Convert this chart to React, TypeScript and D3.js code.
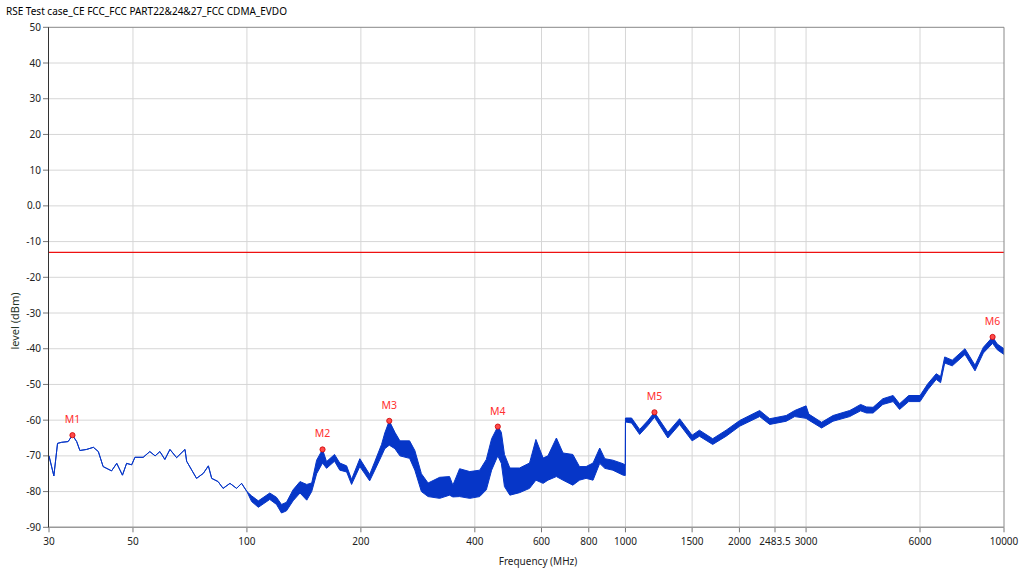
import React from "react";
import * as d3 from "d3";

const TITLE = "RSE Test case_CE FCC_FCC PART22&24&27_FCC CDMA_EVDO";
const xTicks = [30, 50, 100, 200, 400, 600, 800, 1000, 1500, 2000, 2483.5, 3000, 6000, 10000];
const xTickLabels = ["30", "50", "100", "200", "400", "600", "800", "1000", "1500", "2000", "2483.5", "3000", "6000", "10000"];
const yTicks = [50, 40, 30, 20, 10, 0, -10, -20, -30, -40, -50, -60, -70, -80, -90];
const yTickLabels = ["50", "40", "30", "20", "10", "0.0", "-10", "-20", "-30", "-40", "-50", "-60", "-70", "-80", "-90"];
const limitLevel = -13;

const freqs = [
  30, 30.9, 31.6, 32.4, 33.7, 34.6, 35.5, 36.2, 37.7, 39.3, 40.5, 41.7, 43.9, 45.3, 46.9, 48.1, 49.6,
  50.6, 53.2, 55.4, 57.2, 58.9, 60.7, 62.6, 65.2, 68.6, 69.3, 71.5, 73.6, 76.7, 79.1, 80.7, 83.9,
  86.5, 90.2, 93.9, 96.8, 100, 102.9, 107.2, 114.9, 119.7, 123.4, 127.2, 132.4, 138.1, 143.9, 148.3,
  152.8, 158.4, 162.3, 170.4, 175.9, 183.4, 189, 198.7, 204.8, 211, 217.7, 226.8, 231.3, 237.7, 246,
  253.6, 269, 277.7, 289, 301, 323, 343, 350, 364.6, 387.9, 412, 429, 443, 460, 470, 479, 495, 525,
  558, 580, 606, 624, 657, 684, 726, 756, 787, 821, 855, 882, 926, 986, 999, 1000, 1038, 1090, 1144,
  1193, 1210, 1294, 1390, 1500, 1568, 1700, 1845, 2003, 2262, 2405, 2659, 2800, 3000, 3050, 3297,
  3535, 3912, 3992, 4180, 4333, 4510, 4786, 5094, 5298, 5600, 6000, 6291, 6622, 6800, 6972, 7300,
  7887, 8383, 8820, 9330, 9600, 10000,
];
const hiLevels = [
  -70, -75.6, -66.5, -66.2, -66.0, -64.2, -66.0, -68.5, -68.2, -67.6, -68.8, -73.0, -74.2, -72.1, -75.4, -72.1, -72.5,
  -70.4, -70.4, -68.8, -70.0, -68.8, -71.0, -68.2, -70.5, -68.2, -71.5, -74.0, -76.3, -74.9, -72.8, -76.3, -77.2,
  -79.1, -77.7, -79.1, -77.7, -80.0, -81.2, -82.6, -80.4, -81.6, -83.6, -83.0, -79.5, -77.2, -78.0, -77.6,
  -71.2, -68.2, -71.6, -69.6, -72.0, -72.8, -76.6, -70.8, -73.0, -75.2, -71.6, -66.8, -63.6, -60.2, -63.4,
  -65.8, -65.8, -68.5, -75.0, -77.6, -76.0, -75.8, -78.2, -73.6, -74.4, -74.0, -71.0, -65.2, -61.8, -63.4, -69.6, -73.4, -73.4,
  -72.0, -65.4, -70.6, -70.0, -65.0, -69.2, -69.6, -73.0, -73.0, -72.0, -67.8, -70.8, -71.2, -72.2, -72.6, -59.4, -59.4, -62.6, -60.2,
  -57.8, -58.8, -63.4, -59.6, -64.2, -62.8, -65.2, -62.8, -60.1, -57.3, -59.6, -58.7, -57.3, -56.0, -58.3, -60.6,
  -58.7, -57.3, -56.8, -55.6, -56.3, -56.4, -54.0, -53.1, -55.4, -53.1, -53.1, -49.8, -47.0, -47.8, -42.3, -43.2,
  -40.0, -44.6, -39.6, -36.7, -38.7, -40.0,
];
const loLevels = [
  -70, -75.6, -66.5, -66.2, -66.0, -64.2, -66.0, -68.5, -68.2, -67.6, -68.8, -73.0, -74.2, -72.1, -75.4, -72.1, -72.5,
  -70.4, -70.4, -68.8, -70.0, -68.8, -71.0, -68.2, -70.5, -68.2, -71.5, -74.0, -76.3, -74.9, -72.8, -76.3, -77.2,
  -79.1, -77.7, -79.1, -77.7, -80.0, -82.8, -84.4, -82.2, -83.6, -86.0, -85.4, -82.6, -80.4, -82.4, -80.0,
  -75.0, -72.0, -73.5, -71.5, -74.0, -74.5, -78.0, -73.0, -75.0, -77.0, -74.0, -70.0, -68.0, -67.0, -68.0,
  -70.0, -70.7, -74.0, -80.0, -81.4, -81.9, -81.0, -81.5, -81.4, -81.9, -81.4, -79.5, -74.0, -70.0, -72.1, -78.6, -81.0, -80.3,
  -79.1, -76.8, -77.7, -76.8, -75.8, -76.8, -78.2, -76.8, -76.3, -76.8, -72.1, -73.5, -74.0, -75.4, -75.5, -60.5, -60.8, -64.0, -61.6,
  -59.2, -60.2, -65.0, -61.2, -65.8, -64.5, -66.8, -64.5, -61.7, -59.0, -61.2, -60.3, -59.0, -59.5, -60.0, -62.2,
  -60.3, -59.0, -58.5, -57.4, -58.0, -58.0, -55.6, -54.8, -57.0, -54.8, -54.8, -51.5, -48.6, -49.5, -44.0, -44.8,
  -41.6, -46.2, -41.2, -38.5, -40.3, -41.6,
];

const markerNames = ["M1", "M2", "M3", "M4", "M5", "M6"];
const markerFreqs = [34.6, 158.4, 237.7, 460, 1193, 9330];
const markerLevels = [-64.2, -68.2, -60.2, -61.8, -57.8, -36.7];

const FONT = "'Noto Sans', 'DejaVu Sans', sans-serif";

export default function App() {
  const W = 1021, H = 572;
  const left = 49, right = 1004, top = 27.3, bottom = 527.3;
  const x = d3.scaleLog().domain([30, 10000]).range([left, right]);
  const y = d3.scaleLinear().domain([-90, 50]).range([bottom, top]);

  const pts = freqs.map((f, i) => ({ f, hi: hiLevels[i], lo: loLevels[i] }));
  const area = d3.area<any>().x((d) => x(d.f)).y0((d) => y(d.lo)).y1((d) => y(d.hi));
  const hiLine = d3.line<any>().x((d) => x(d.f)).y((d) => y(d.hi));
  const loLine = d3.line<any>().x((d) => x(d.f)).y((d) => y(d.lo));
  const traceColor = "#0636c8";

  return (
    <svg width={W} height={H} style={{ position: "absolute", left: 0, top: 0, background: "#fff" }}>
      <rect x={0} y={0} width={W} height={H} fill="#fff" />
      <text x={6} y={15} fontFamily={FONT} fontSize={10} fill="#000">{TITLE}</text>

      {yTicks.map((t, i) => (
        <g key={"y" + i}>
          {i > 0 && i < yTicks.length - 1 && (
            <line x1={left} x2={right} y1={y(t)} y2={y(t)} stroke="#d6d6d6" strokeWidth={1} />
          )}
          <line x1={43} x2={left} y1={y(t)} y2={y(t)} stroke="#777" strokeWidth={1} />
          <text x={41} y={y(t) + 3.5} textAnchor="end" fontFamily={FONT} fontSize={10} fill="#222">{yTickLabels[i]}</text>
        </g>
      ))}
      {xTicks.map((t, i) => (
        <g key={"x" + i}>
          {i > 0 && i < xTicks.length - 1 && (
            <line x1={x(t)} x2={x(t)} y1={top} y2={bottom} stroke="#d6d6d6" strokeWidth={1} />
          )}
          <line x1={x(t)} x2={x(t)} y1={bottom} y2={bottom + 5} stroke="#777" strokeWidth={1} />
          <text x={x(t)} y={bottom + 18} textAnchor="middle" fontFamily={FONT} fontSize={10} fill="#222">{xTickLabels[i]}</text>
        </g>
      ))}

      <line x1={left} x2={right} y1={y(limitLevel)} y2={y(limitLevel)} stroke="#ee1111" strokeWidth={1.2} />

      <path d={area(pts) || ""} fill={traceColor} stroke="none" />
      <path d={hiLine(pts) || ""} fill="none" stroke={traceColor} strokeWidth={1} />
      <path d={loLine(pts) || ""} fill="none" stroke={traceColor} strokeWidth={1} />

      {markerNames.map((m, i) => (
        <g key={m}>
          <circle cx={x(markerFreqs[i])} cy={y(markerLevels[i])} r={2.6} fill="#ff4a4a" stroke="#c00" strokeWidth={0.8} />
          <text x={x(markerFreqs[i])} y={y(markerLevels[i]) - 12} textAnchor="middle" fontFamily={FONT} fontSize={10.5} fill="#ff3030">{m}</text>
        </g>
      ))}

      <line x1={left} x2={right} y1={top} y2={top} stroke="#888" strokeWidth={1} />
      <line x1={right} x2={right} y1={top} y2={bottom} stroke="#888" strokeWidth={1} />
      <line x1={left} x2={right} y1={bottom} y2={bottom} stroke="#999" strokeWidth={1.5} />
      <line x1={left - 0.5} x2={left - 0.5} y1={top} y2={bottom} stroke="#333" strokeWidth={1} />

      <text transform={`translate(19,321) rotate(-90)`} textAnchor="middle" fontFamily={FONT} fontSize={11} fill="#1f331f">level (dBm)</text>
      <text x={538} y={565} textAnchor="middle" fontFamily={FONT} fontSize={10} fill="#222">Frequency (MHz)</text>
    </svg>
  );
}
